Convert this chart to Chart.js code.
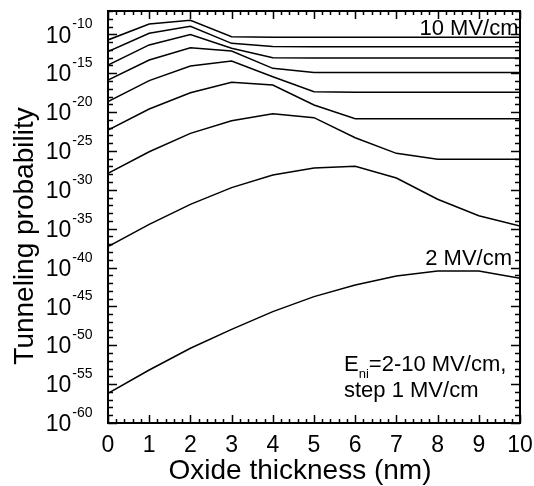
<!DOCTYPE html>
<html>
<head>
<meta charset="utf-8">
<script src="https://cdn.jsdelivr.net/npm/chart.js@4.4.1/dist/chart.umd.min.js"></script>
<style>
  html, body { margin: 0; padding: 0; background: #fff; }
  #wrap { width: 534px; height: 486px; position: relative; }
</style>
</head>
<body>
<div id="wrap"><canvas id="tunnelChart"></canvas></div>
<script>
// oxide thickness (nm)
const thickness = [0, 1, 2, 3, 4, 5, 6, 7, 8, 9, 10];

// tunneling probability, one array per field E_ni (MV/cm)
const p2  = [6.6e-57, 6.6e-54, 4.1e-51, 1.1e-48, 2.1e-46, 1.8e-44, 5.6e-43, 8.1e-42, 3.5e-41, 3.5e-41, 4.1e-42];
const p3  = [4.8e-38, 3.6e-35, 1.35e-32, 1.9e-30, 7.9e-29, 6.3e-28, 1.05e-27, 3.3e-29, 6.0e-32, 4.7e-34, 2.2e-35];
const p4  = [1.3e-28, 7.9e-26, 1.8e-23, 7.8e-22, 6.2e-21, 1.9e-21, 5.0e-24, 4.9e-26, 8.3e-27, 8.3e-27, 8.3e-27];
const p5  = [4.9e-23, 2.5e-20, 3.1e-18, 6.6e-17, 3.0e-17, 8.1e-20, 1.4e-21, 1.4e-21, 1.4e-21, 1.4e-21, 1.4e-21];
const p6  = [2.2e-19, 1.1e-16, 8.3e-15, 3.7e-14, 3.5e-16, 4.2e-18, 3.5e-18, 3.5e-18, 3.5e-18, 3.5e-18, 3.5e-18];
const p7  = [1.3e-16, 5.0e-14, 1.9e-12, 7.1e-13, 4.2e-15, 1.2e-15, 1.2e-15, 1.2e-15, 1.2e-15, 1.2e-15, 1.2e-15];
const p8  = [1.1e-14, 4.3e-12, 9.1e-11, 1.6e-12, 1.0e-13, 8.9e-14, 8.9e-14, 8.9e-14, 8.9e-14, 8.9e-14, 8.9e-14];
const p9  = [5.9e-13, 1.35e-10, 1.07e-9, 6.9e-12, 2.8e-12, 2.6e-12, 2.6e-12, 2.6e-12, 2.6e-12, 2.6e-12, 2.6e-12];
const p10 = [1.9e-11, 2.1e-9, 6.3e-9, 5.0e-11, 4.1e-11, 4.1e-11, 4.1e-11, 4.1e-11, 4.1e-11, 4.1e-11, 4.1e-11];

const fieldSeries = [p2, p3, p4, p5, p6, p7, p8, p9, p10];

// axis ticks
const xTickLabels = ["0", "1", "2", "3", "4", "5", "6", "7", "8", "9", "10"];
const yTickExponents = [-60, -55, -50, -45, -40, -35, -30, -25, -20, -15, -10];

const FONT = '"Liberation Sans", Arial, Helvetica, sans-serif';

// frame, inward ticks, tick labels, titles and notes
const framePlugin = {
  id: "frame",
  afterDraw(chart) {
    const { ctx, chartArea: a, scales } = chart;
    const x = scales.x;
    const y = scales.y;
    ctx.save();
    ctx.strokeStyle = "#000";
    ctx.fillStyle = "#000";

    // minor/major ticks on all four sides
    ctx.lineWidth = 1.5;
    ctx.beginPath();
    for (let i = 0; i <= 50; i++) {
      const px = Math.round(x.getPixelForValue(i / 5)) + 0.5;
      const len = i % 5 === 0 ? 8 : 4;
      ctx.moveTo(px, a.bottom);
      ctx.lineTo(px, a.bottom - len);
      ctx.moveTo(px, a.top);
      ctx.lineTo(px, a.top + len);
    }
    for (let e = -60; e <= -7; e++) {
      const py = Math.round(y.getPixelForValue(Math.pow(10, e))) + 0.5;
      const len = e % 5 === 0 ? 9 : 5;
      ctx.moveTo(a.left, py);
      ctx.lineTo(a.left + len, py);
      ctx.moveTo(a.right, py);
      ctx.lineTo(a.right - len, py);
    }
    ctx.stroke();

    ctx.lineWidth = 2;
    ctx.strokeRect(a.left, a.top, a.right - a.left, a.bottom - a.top);

    // x tick labels
    ctx.font = "23px " + FONT;
    ctx.textAlign = "center";
    ctx.textBaseline = "alphabetic";
    thickness.forEach((t, i) => {
      ctx.fillText(xTickLabels[i], x.getPixelForValue(t), 452);
    });

    // y tick labels: 10 with superscript exponent
    yTickExponents.forEach((e) => {
      const py = y.getPixelForValue(Math.pow(10, e));
      const sup = String(e);
      ctx.font = "14px " + FONT;
      ctx.textAlign = "right";
      ctx.fillText(sup, 92.5, py - 6);
      const supW = ctx.measureText(sup).width;
      ctx.font = "23px " + FONT;
      ctx.fillText("10", 92.5 - supW - 1, py + 8.2);
    });

    // axis titles
    ctx.font = "28px " + FONT;
    ctx.textAlign = "center";
    ctx.fillText("Oxide thickness (nm)", 300, 479);
    ctx.save();
    ctx.translate(33, 236);
    ctx.rotate(-Math.PI / 2);
    ctx.fillText("Tunneling probability", 0, 0);
    ctx.restore();

    // curve notes
    ctx.font = "22px " + FONT;
    ctx.textAlign = "right";
    ctx.fillText("10 MV/cm", 518.5, 35);
    ctx.fillText("2 MV/cm", 512, 264.5);

    ctx.textAlign = "left";
    let tx = 344;
    ctx.fillText("E", tx, 370.5);
    tx += ctx.measureText("E").width;
    ctx.font = "13px " + FONT;
    ctx.fillText("ni", tx, 378);
    tx += ctx.measureText("ni").width;
    ctx.font = "22px " + FONT;
    ctx.fillText("=2-10 MV/cm,", tx, 370.5);
    ctx.fillText("step 1 MV/cm", 344, 397);

    ctx.restore();
  },
};

const ctx = document.getElementById("tunnelChart").getContext("2d");
const tunnelChart = new Chart(ctx, {
  type: "line",
  data: {
    datasets: fieldSeries.map((vals, k) => ({
      label: (k + 2) + " MV/cm",
      data: thickness.map((t, i) => ({ x: t, y: vals[i] })),
      borderColor: "#000",
      borderWidth: 1.5,
      pointRadius: 0,
      tension: 0,
      fill: false,
    })),
  },
  options: {
    responsive: true,
    maintainAspectRatio: false,
    animation: false,
    devicePixelRatio: 1,
    layout: { padding: { left: 108, right: 14, top: 11, bottom: 63 } },
    plugins: {
      legend: { display: false },
      tooltip: { enabled: false },
    },
    scales: {
      x: {
        type: "linear",
        min: 0,
        max: 10,
        grid: { display: false, drawTicks: false },
        border: { display: false },
        ticks: { display: false },
      },
      y: {
        type: "logarithmic",
        min: 1e-60,
        max: 1e-7,
        grid: { display: false, drawTicks: false },
        border: { display: false },
        ticks: { display: false },
        afterBuildTicks: (scale) => {
          scale.ticks = yTickExponents.map((e) => ({ value: Math.pow(10, e) }));
        },
      },
    },
  },
  plugins: [framePlugin],
});
</script>
</body>
</html>
